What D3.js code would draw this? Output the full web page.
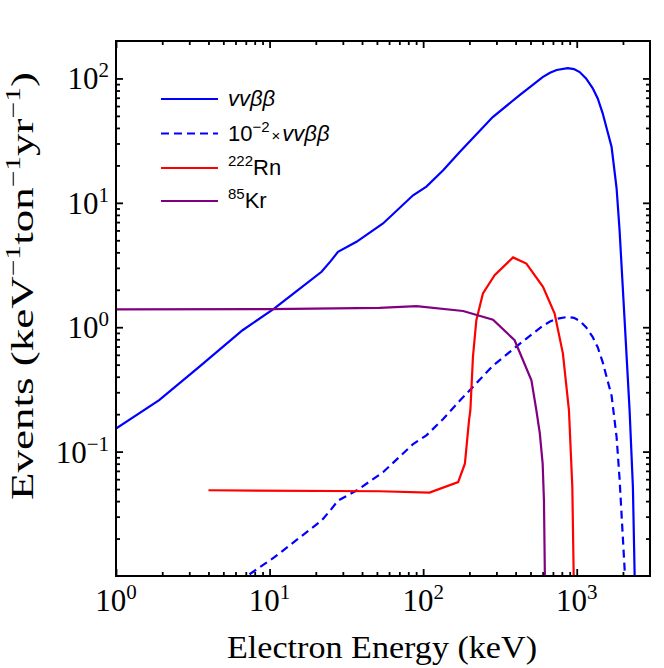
<!DOCTYPE html>
<html>
<head>
<meta charset="utf-8">
<script src="https://cdn.jsdelivr.net/npm/d3@7"></script>
<style>
  body { margin: 0; background: #fff; }
  svg { display: block; }
</style>
</head>
<body>
<div id="chart"></div>
<script>
// 2vbb spectrum (keV, events/keV/ton/yr)
const vvEnergy = [1, 1.91, 3.48, 6.67, 10.7, 15, 21.8, 25, 27.9, 36.8, 54.8, 86, 105, 135, 173, 284, 425, 600, 670, 740, 873, 960, 1045, 1150, 1269, 1370, 1474, 1687, 1818, 1901, 2050, 2209, 2322, 2382, 2420];
const vvRate = [0.153, 0.259, 0.48, 0.946, 1.41, 1.95, 2.79, 3.4, 4.04, 4.86, 6.83, 11.5, 13.5, 18.3, 25.6, 48.9, 73.5, 102.6, 111, 116.9, 121, 119, 112.5, 100, 83.7, 69, 52.7, 28.1, 13.1, 6.03, 1.14, 0.215, 0.0516, 0.0105, 0.003];
const vvScale = 1e-2; // dashed curve = 10^-2 x vvbb

// 222Rn
const rnEnergy = [4, 52, 110, 169, 187, 199, 203, 211, 222, 245, 292, 385, 470, 603, 718, 813, 890, 936, 955, 965];
const rnRate = [0.0489, 0.048, 0.0468, 0.0569, 0.08, 0.179, 0.215, 0.577, 1.14, 1.87, 2.62, 3.64, 3.25, 2.11, 1.29, 0.614, 0.215, 0.0521, 0.0105, 0.001];

// 85Kr
const krEnergy = [1, 10, 52, 90.4, 182, 285, 394, 507, 546, 575, 600, 612, 620, 625];
const krRate = [1.39, 1.40, 1.43, 1.48, 1.35, 1.15, 0.786, 0.375, 0.215, 0.14, 0.08, 0.04, 0.0105, 0.001];

const xMajor = [1, 10, 100, 1000];
const xMajorExp = ['0', '1', '2', '3'];
const yMajor = [0.1, 1, 10, 100];
const yMajorExp = ['\u22121', '0', '1', '2'];

const legendItems = [
  { key: 'vv', color: '#0000ff', dash: null },
  { key: 'vv2', color: '#0000ff', dash: '8,5' },
  { key: 'rn', color: '#ff0000', dash: null },
  { key: 'kr', color: '#800080', dash: null },
];

const W = 664, H = 668;
const m = { left: 116, right: 650, top: 41, bottom: 576 };

const svg = d3.select('#chart').append('svg').attr('width', W).attr('height', H);

const x = d3.scaleLog().domain([1, 3000]).range([m.left, m.right]);
const y = d3.scaleLog().domain([0.01, 200]).range([m.bottom, m.top]);

svg.append('defs').append('clipPath').attr('id', 'plotclip')
  .append('rect').attr('x', m.left).attr('y', m.top).attr('width', m.right - m.left).attr('height', m.bottom - m.top);

// minor tick values
const xMinor = [];
for (let k = 0; k <= 3; k++) for (let j = 2; j <= 9; j++) { const v = j * Math.pow(10, k); if (v < 3000) xMinor.push(v); }
const yMinor = [];
for (let k = -2; k <= 2; k++) for (let j = 2; j <= 9; j++) { const v = j * Math.pow(10, k); if (v < 200) yMinor.push(v); }

function addAxis(axisFn, scale, vals, len, transform) {
  svg.append('g')
    .attr('transform', transform)
    .call(axisFn(scale).tickValues(vals).tickSizeInner(len).tickSizeOuter(0).tickFormat(''))
    .call(g => g.select('.domain').remove())
    .call(g => g.selectAll('line').attr('stroke', '#000').attr('stroke-width', 1.8));
}
addAxis(d3.axisBottom, x, xMajor, -7, `translate(0,${m.bottom})`);
addAxis(d3.axisBottom, x, xMinor, -4, `translate(0,${m.bottom})`);
addAxis(d3.axisTop, x, xMajor, -7, `translate(0,${m.top})`);
addAxis(d3.axisTop, x, xMinor, -4, `translate(0,${m.top})`);
addAxis(d3.axisLeft, y, yMajor, -7, `translate(${m.left},0)`);
addAxis(d3.axisLeft, y, yMinor, -4, `translate(${m.left},0)`);
addAxis(d3.axisRight, y, yMajor, -7, `translate(${m.right},0)`);
addAxis(d3.axisRight, y, yMinor, -4, `translate(${m.right},0)`);

// curves
const line = d3.line().x(d => x(d[0])).y(d => y(d[1]));
const plot = svg.append('g').attr('clip-path', 'url(#plotclip)');

const vvPts = d3.zip(vvEnergy, vvRate);
const vv2Pts = d3.zip(vvEnergy, vvRate.map(v => v * vvScale));
const rnPts = d3.zip(rnEnergy, rnRate);
const krPts = d3.zip(krEnergy, krRate);

plot.append('path').attr('d', line(vvPts)).attr('fill', 'none').attr('stroke', '#0000ff').attr('stroke-width', 2.2);
plot.append('path').attr('d', line(vv2Pts)).attr('fill', 'none').attr('stroke', '#0000ff').attr('stroke-width', 2.2).attr('stroke-dasharray', '8,5');
plot.append('path').attr('d', line(rnPts)).attr('fill', 'none').attr('stroke', '#ff0000').attr('stroke-width', 2.2);
plot.append('path').attr('d', line(krPts)).attr('fill', 'none').attr('stroke', '#800080').attr('stroke-width', 2.2);

// frame
svg.append('rect').attr('x', m.left).attr('y', m.top).attr('width', m.right - m.left).attr('height', m.bottom - m.top)
  .attr('fill', 'none').attr('stroke', '#000').attr('stroke-width', 2);

// tick labels
const serif = '"Liberation Serif", "Times New Roman", serif';
xMajor.forEach((v, i) => {
  const t = svg.append('text').attr('x', x(v)).attr('y', 611).attr('text-anchor', 'middle')
    .attr('font-family', serif).attr('font-size', 31);
  t.append('tspan').text('10');
  t.append('tspan').attr('dy', -12).attr('font-size', 21).text(xMajorExp[i]);
});
yMajor.forEach((v, i) => {
  const t = svg.append('text').attr('x', 109).attr('y', y(v) + 11).attr('text-anchor', 'end')
    .attr('font-family', serif).attr('font-size', 31);
  t.append('tspan').text('10');
  t.append('tspan').attr('dy', -12).attr('font-size', 21).text(yMajorExp[i]);
});

// axis titles
svg.append('text').attr('x', 382).attr('y', 658).attr('text-anchor', 'middle')
  .attr('font-family', serif).attr('font-size', 32)
  .attr('textLength', 310).attr('lengthAdjust', 'spacingAndGlyphs')
  .text('Electron Energy (keV)');

const yt = svg.append('text').attr('transform', `translate(33,286) rotate(-90)`).attr('text-anchor', 'middle')
  .attr('font-family', serif).attr('font-size', 32)
  .attr('textLength', 428).attr('lengthAdjust', 'spacingAndGlyphs');
yt.append('tspan').text('Events (keV');
yt.append('tspan').attr('dy', -13).attr('font-size', 21).text('\u22121');
yt.append('tspan').attr('dy', 13).text('ton');
yt.append('tspan').attr('dy', -13).attr('font-size', 21).text('\u22121');
yt.append('tspan').attr('dy', 13).text('yr');
yt.append('tspan').attr('dy', -13).attr('font-size', 21).text('\u22121');
yt.append('tspan').attr('dy', 13).text(')');

// legend
const sans = '"Liberation Sans", Arial, sans-serif';
const legY = [99, 133.5, 168, 201];
legendItems.forEach((d, i) => {
  svg.append('line').attr('x1', 161).attr('x2', 218).attr('y1', legY[i]).attr('y2', legY[i])
    .attr('stroke', d.color).attr('stroke-width', 2.2).attr('stroke-dasharray', d.dash);
  const t = svg.append('text').attr('x', 228).attr('y', legY[i] + 7)
    .attr('font-family', sans).attr('font-size', 22);
  if (d.key === 'vv') {
    t.append('tspan').attr('font-style', 'italic').text('vv\u03b2\u03b2');
  } else if (d.key === 'vv2') {
    t.append('tspan').text('10');
    t.append('tspan').attr('dy', -9).attr('font-size', 15).text('\u22122');
    t.append('tspan').attr('dy', 9).attr('font-size', 15).attr('dx', 2).text('\u00d7');
    t.append('tspan').attr('font-style', 'italic').attr('dx', 2).text('vv\u03b2\u03b2');
  } else if (d.key === 'rn') {
    t.append('tspan').attr('dy', -9).attr('font-size', 15).text('222');
    t.append('tspan').attr('dy', 9).text('Rn');
  } else {
    t.append('tspan').attr('dy', -9).attr('font-size', 15).text('85');
    t.append('tspan').attr('dy', 9).text('Kr');
  }
});
</script>
</body>
</html>
